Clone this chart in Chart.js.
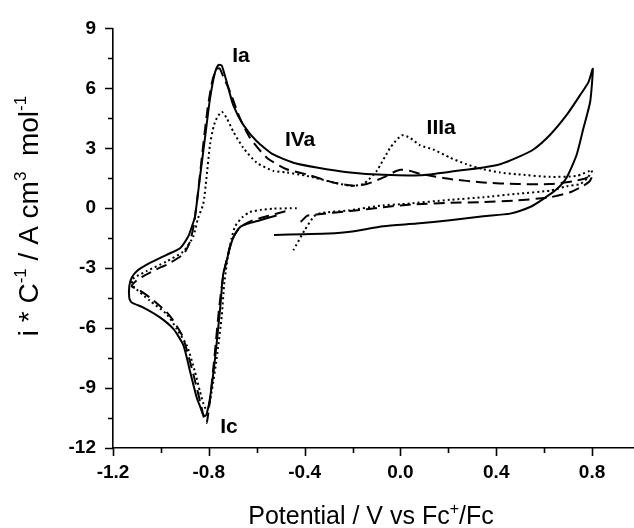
<!DOCTYPE html>
<html>
<head>
<meta charset="utf-8">
<script src="https://cdn.jsdelivr.net/npm/chart.js@4"></script>
<style>
  html, body { margin: 0; padding: 0; background: #fff; }
  #cv { display: block; }
</style>
</head>
<body>
<canvas id="cv" width="634" height="528"></canvas>
<script>
// Cyclic voltammograms: potential (V vs Fc+/Fc) and normalised current (i * C^-1 / A cm^3 mol^-1)

// Scan 1 (solid)
const solidPotential = [
  -0.517, -0.586, -0.64, -0.67, -0.695, -0.711, -0.725, -0.74, -0.753, -0.774,
  -0.795, -0.809, -0.816, -0.825, -0.837, -0.85, -0.878, -0.906, -0.948, -1.004,
  -1.073, -1.122, -1.132, -1.132, -1.122, -1.101, -1.046, -0.976, -0.92, -0.886,
  -0.873, -0.858, -0.837, -0.816, -0.795, -0.774, -0.76, -0.746, -0.725, -0.698,
  -0.656, -0.6, -0.531, -0.447, -0.35, -0.21, -0.071, 0.082, 0.235, 0.346,
  0.416, 0.486, 0.555, 0.625, 0.694, 0.75, 0.785, 0.803, 0.792, 0.764,
  0.736, 0.694, 0.653, 0.597, 0.541, 0.458, 0.346, 0.207, 0.068, -0.071,
  -0.21, -0.3, -0.4, -0.528
];
const solidCurrent = [
  -0.36, -0.60, -0.78, -0.95, -1.4, -1.92, -2.6, -3.3, -5.05, -7.52,
  -9.5, -10.3, -10.4, -10.3, -9.9, -9.5, -8.18, -6.86, -6.04, -5.46,
  -4.97, -4.72, -4.5, -3.9, -3.48, -3.15, -2.74, -2.33, -2.0, -1.42,
  -1.0, -0.43, 1.54, 3.52, 5.49, 6.81, 7.17, 7.14, 6.31, 5.16,
  4.17, 3.35, 2.69, 2.28, 2.04, 1.79, 1.67, 1.65, 1.87, 2.04,
  2.2, 2.53, 2.94, 3.68, 4.67, 5.66, 6.31, 6.98, 5.33, 4.01,
  2.69, 1.54, 0.96, 0.47, 0.06, -0.27, -0.4, -0.6, -0.77, -0.9,
  -1.18, -1.27, -1.3, -1.34
];

// Scan 2 (dashed)
const dashedPotential = [
  -0.48, -0.55, -0.62, -0.67, -0.70, -0.72, -0.74, -0.757, -0.777, -0.795,
  -0.805, -0.81, -0.818, -0.83, -0.85, -0.878, -0.91, -0.95, -0.976, -1.046,
  -1.09, -1.122, -1.1, -1.073, -1.0, -0.976, -0.906, -0.878, -0.862, -0.845,
  -0.825, -0.805, -0.785, -0.768, -0.755, -0.74, -0.711, -0.67, -0.628, -0.558,
  -0.475, -0.393, -0.28, -0.197, -0.141, -0.071, -0.02, 0.0, 0.04, 0.082,
  0.137, 0.207, 0.346, 0.486, 0.625, 0.72, 0.764, 0.8, 0.79, 0.764,
  0.708, 0.625, 0.486, 0.346, 0.207, 0.068, 0.0, -0.071, -0.21, -0.35,
  -0.39, -0.418, -0.432
];
const dashedCurrent = [
  -0.15, -0.38, -0.62, -0.95, -1.5, -2.3, -3.4, -5.0, -7.5, -9.6,
  -10.5, -10.75, -10.6, -10.0, -9.0, -7.7, -6.4, -5.6, -5.2, -4.47,
  -4.1, -3.9, -3.6, -3.4, -2.95, -2.83, -2.3, -1.65, -0.8, 0.8,
  3.0, 5.0, 6.4, 6.95, 7.0, 6.6, 5.82, 4.5, 3.52, 2.53,
  1.95, 1.70, 1.29, 1.13, 1.21, 1.54, 1.85, 1.93, 1.87, 1.72,
  1.6, 1.46, 1.29, 1.21, 1.21, 1.35, 1.46, 1.62, 1.35, 1.13,
  0.8, 0.55, 0.39, 0.31, 0.27, 0.2, 0.14, 0.05, -0.14, -0.31,
  -0.38, -0.68, -0.45
];

// Scan 3 (dotted)
const dottedPotential = [
  -0.433, -0.531, -0.58, -0.628, -0.66, -0.69, -0.705, -0.72, -0.735, -0.746,
  -0.767, -0.788, -0.802, -0.812, -0.822, -0.837, -0.858, -0.892, -0.934, -0.976,
  -1.046, -1.115, -1.122, -1.1, -1.06, -0.976, -0.906, -0.865, -0.845, -0.823,
  -0.81, -0.795, -0.78, -0.767, -0.746, -0.725, -0.698, -0.656, -0.6, -0.531,
  -0.475, -0.391, -0.28, -0.21, -0.155, -0.099, -0.043, 0.005, 0.04, 0.082,
  0.137, 0.207, 0.276, 0.346, 0.416, 0.486, 0.625, 0.736, 0.8, 0.78,
  0.75, 0.694, 0.625, 0.486, 0.346, 0.207, 0.0, -0.071, -0.21, -0.33,
  -0.36, -0.4, -0.447
];
const dottedCurrent = [
  0.0, -0.02, -0.08, -0.19, -0.45, -0.9, -1.5, -2.4, -3.7, -5.38,
  -7.52, -9.17, -9.99, -10.05, -9.8, -9.17, -8.18, -6.86, -6.04, -5.3,
  -4.63, -3.9, -3.57, -3.4, -3.15, -2.66, -2.16, -1.42, -0.5, 0.22,
  1.5, 3.19, 4.1, 4.5, 4.83, 4.5, 3.84, 3.02, 2.28, 1.87,
  1.79, 1.62, 1.29, 1.13, 1.21, 1.87, 3.02, 3.65, 3.52, 3.15,
  2.94, 2.53, 2.2, 1.95, 1.79, 1.7, 1.57, 1.62, 1.9, 1.5,
  1.21, 1.1, 0.88, 0.72, 0.55, 0.42, 0.2, 0.15, -0.1, -0.24,
  -0.4, -1.1, -2.1
];

// Axis ticks (labels left blank on minor ticks)
const xTickValues = [-1.2, -1.0, -0.8, -0.6, -0.4, -0.2, 0.0, 0.2, 0.4, 0.6, 0.8];
const xTickLabels = ['-1.2', '', '-0.8', '', '-0.4', '', '0.0', '', '0.4', '', '0.8'];
const yTickValues = [-12, -10.5, -9, -7.5, -6, -4.5, -3, -1.5, 0, 1.5, 3, 4.5, 6, 7.5, 9];
const yTickLabels = ['-12', '', '-9', '', '-6', '', '-3', '', '0', '', '3', '', '6', '', '9'];

// Peak names placed at (potential, current)
const peakNames = ['Ia', 'IVa', 'IIIa', 'Ic'];
const peakNamePotential = [-0.666, -0.419, 0.17, -0.716];
const peakNameCurrent = [7.63, 3.38, 4.03, -10.94];

// Axis titles as runs of [text, isSuperscript]
const xTitleRuns = [['Potential / V vs Fc', false], ['+', true], ['/Fc', false]];
const yTitleRuns = [['i * C', false], ['-1', true], [' / A cm', false], ['3', true], ['  mol', false], ['-1', true]];

const FONT = "'Liberation Sans', Arial, Helvetica, sans-serif";

function pairs(xs, ys) { return xs.map((v, i) => ({ x: v, y: ys[i] })); }

function runsWidth(ctx, runs, size) {
  let w = 0;
  runs.forEach(([t, sup]) => {
    ctx.font = (sup ? Math.round(size * 0.62) : size) + 'px ' + FONT;
    w += ctx.measureText(t).width;
  });
  return w;
}
function drawRuns(ctx, runs, size, x0, baseline) {
  let x = x0;
  runs.forEach(([t, sup]) => {
    const s = sup ? Math.round(size * 0.62) : size;
    ctx.font = s + 'px ' + FONT;
    ctx.fillText(t, x, sup ? baseline - size * 0.42 : baseline);
    x += ctx.measureText(t).width;
  });
}

const decor = {
  id: 'decor',
  afterDraw(chart) {
    const { ctx, chartArea, scales: { x, y } } = chart;
    ctx.save();
    ctx.strokeStyle = '#000';
    ctx.lineWidth = 1.6;
    ctx.beginPath();
    x.ticks.forEach((t, i) => {
      const px = Math.round(x.getPixelForTick(i)) + 0.5;
      const len = xTickLabels[i] ? 8 : 5;
      ctx.moveTo(px, chartArea.bottom);
      ctx.lineTo(px, chartArea.bottom + len);
    });
    y.ticks.forEach((t, i) => {
      const py = Math.round(y.getPixelForTick(i)) + 0.5;
      const len = yTickLabels[i] ? 8 : 5;
      ctx.moveTo(chartArea.left - len, py);
      ctx.lineTo(chartArea.left, py);
    });
    ctx.stroke();

    // peak names
    ctx.fillStyle = '#000';
    ctx.font = 'bold 21px ' + FONT;
    ctx.textAlign = 'center';
    ctx.textBaseline = 'middle';
    peakNames.forEach((n, i) => {
      ctx.fillText(n, x.getPixelForValue(peakNamePotential[i]), y.getPixelForValue(peakNameCurrent[i]));
    });

    // axis titles
    ctx.textAlign = 'left';
    ctx.textBaseline = 'alphabetic';
    const xSize = 25;
    const xw = runsWidth(ctx, xTitleRuns, xSize);
    drawRuns(ctx, xTitleRuns, xSize, 371 - xw / 2, 524);

    const ySize = 28;
    const yw = runsWidth(ctx, yTitleRuns, ySize);
    ctx.translate(38, 216);
    ctx.rotate(-Math.PI / 2);
    drawRuns(ctx, yTitleRuns, ySize, -yw / 2, 0);
    ctx.restore();
  }
};

const tickFont = { family: FONT, size: 19, weight: 'bold' };

new Chart(document.getElementById('cv'), {
  type: 'scatter',
  data: {
    datasets: [
      { data: pairs(solidPotential, solidCurrent), borderDash: [] },
      { data: pairs(dashedPotential, dashedCurrent), borderDash: [11, 6] },
      { data: pairs(dottedPotential, dottedCurrent), borderDash: [2, 3] }
    ]
  },
  options: {
    responsive: false,
    animation: false,
    devicePixelRatio: 1,
    showLine: true,
    layout: { padding: { top: 22, right: 0, bottom: 0, left: 0 } },
    plugins: { legend: { display: false }, tooltip: { enabled: false } },
    elements: {
      point: { radius: 0, hoverRadius: 0 },
      line: { tension: 0.2, borderWidth: 2, borderColor: '#000', fill: false }
    },
    scales: {
      x: {
        type: 'linear', min: -1.2, max: 0.975,
        afterFit(s) { s.height = 80; },
        afterBuildTicks(s) { s.ticks = xTickValues.map(v => ({ value: v })); },
        ticks: {
          autoSkip: false, maxRotation: 0, padding: 13, color: '#000', font: tickFont,
          callback: (v, i) => xTickLabels[i]
        },
        grid: { display: false, drawTicks: false },
        border: { display: true, color: '#000', width: 1.6 }
      },
      y: {
        type: 'linear', min: -12, max: 9,
        afterFit(s) { s.width = 113; },
        afterBuildTicks(s) { s.ticks = yTickValues.map(v => ({ value: v })); },
        ticks: {
          autoSkip: false, padding: 17, color: '#000', font: tickFont,
          callback: (v, i) => yTickLabels[i]
        },
        grid: { display: false, drawTicks: false },
        border: { display: true, color: '#000', width: 1.6 }
      }
    }
  },
  plugins: [decor]
});
</script>
</body>
</html>
